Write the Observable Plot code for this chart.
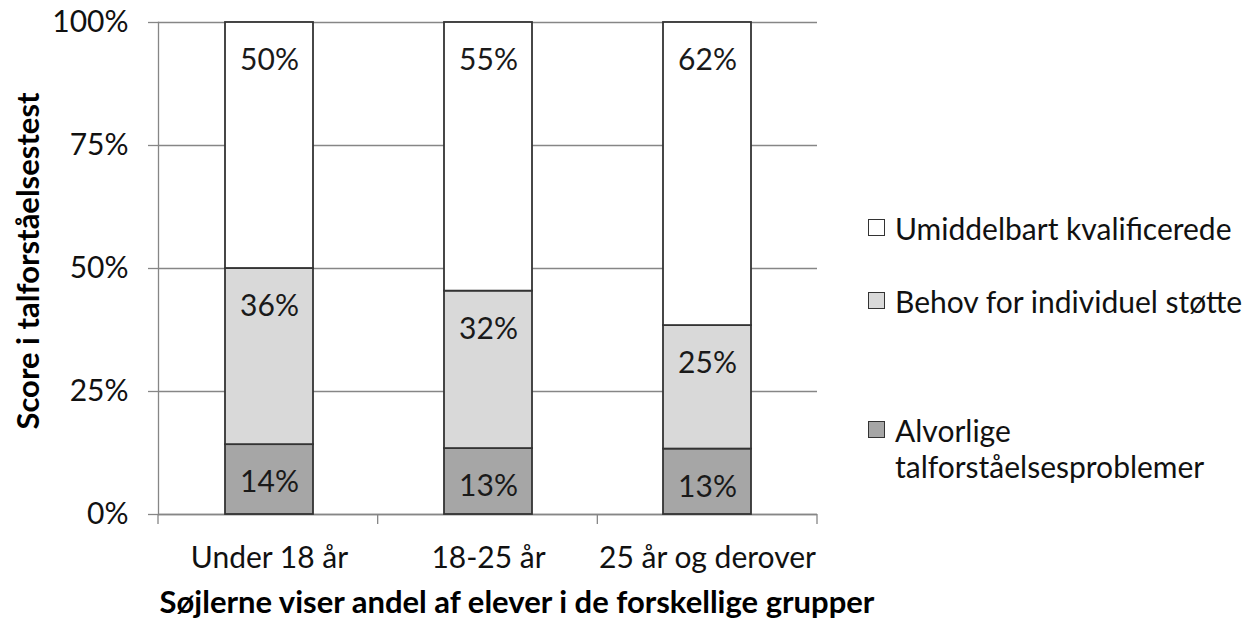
<!DOCTYPE html>
<html><head><meta charset="utf-8">
<script src="https://cdn.jsdelivr.net/npm/d3@7"></script>
<script src="https://cdn.jsdelivr.net/npm/@observablehq/plot@0.6"></script>
<style>
body{margin:0;background:#fff;font-family:Lato,sans-serif;}
#wrap{position:relative;width:1250px;height:625px;overflow:hidden;background:#fff}
#wrap svg{position:absolute;left:0;top:0}
.ttl{position:absolute;font-weight:bold;font-size:31px;color:#000;white-space:nowrap;}
.leg{position:absolute;font-size:30px;line-height:36px;color:#111;white-space:nowrap;}
.sq{position:absolute;width:17px;height:17px;border:1.5px solid #333;box-sizing:border-box;}
</style></head><body><div id="wrap"></div>
<script>
const groups = ["Under 18 år", "18-25 år", "25 år og derover"];
const series = ["Alvorlige talforståelsesproblemer", "Behov for individuel støtte", "Umiddelbart kvalificerede"];
const alvorlige = [14.2, 13.4, 13.3];
const behov = [35.8, 32.0, 25.1];
const umiddelbart = [50.0, 54.6, 61.6];
const yTicks = [0, 25, 50, 75, 100];
const colors = ["#a6a6a6", "#d9d9d9", "#ffffff"];
const yTitle = "Score i talforståelsestest";
const xTitle = "Søjlerne viser andel af elever i de forskellige grupper";
const legendLines = [["Umiddelbart kvalificerede"], ["Behov for individuel støtte"], ["Alvorlige", "talforståelsesproblemer"]];

const values = [alvorlige, behov, umiddelbart];
const rows = [];
groups.forEach((g, i) => series.forEach((s, j) => rows.push({group: g, series: s, value: values[j][i]})));

const W = 1250, H = 625, mL = 158, mR = 433, mT = 22, mB = 111;
const grid = "#868686";
const chart = Plot.plot({
  width: W, height: H, marginLeft: mL, marginRight: mR, marginTop: mT, marginBottom: mB,
  style: {fontFamily: "Lato, sans-serif", fontSize: "30px", color: "#111", background: "transparent"},
  x: {domain: groups, paddingInner: 0.6, paddingOuter: 0.3, label: null},
  y: {domain: [0, 100], label: null},
  color: {domain: series, range: colors},
  marks: [
    Plot.gridY(yTicks, {stroke: grid, strokeOpacity: 1, strokeWidth: 1.3}),
    Plot.frame({anchor: "left", stroke: grid, strokeWidth: 1.3}),
    Plot.ruleY([0], {stroke: grid, strokeWidth: 1.3}),
    Plot.axisY(yTicks, {tickSize: 10, tickPadding: 20, tickFormat: d => d + "%", stroke: grid, strokeWidth: 1.3, label: null}),
    Plot.axisX({tickSize: 0, tickPadding: 32, label: null}),
    Plot.barY(rows, {x: "group", y: "value", fill: "series", order: series, stroke: "#333", strokeWidth: 1.8}),
    Plot.text(rows, Plot.stackY2({x: "group", y: "value", z: "series", order: series,
      text: d => Math.round(d.value) + "%", dy: 38, fill: "#1a1a1a"}))
  ]
});
const wrap = document.getElementById("wrap");
wrap.appendChild(chart);

// category boundary ticks on the x axis
const xs = chart.scale("x");
const [r0, r1] = xs.range;
const ys = chart.scale("y");
const y0 = ys.apply(0);
const step = (r1 - r0) / groups.length;
const svg = d3.select(chart);
for (let i = 0; i <= groups.length; i++) {
  svg.append("line").attr("x1", r0 + i * step).attr("x2", r0 + i * step)
    .attr("y1", y0).attr("y2", y0 + 10).attr("stroke", grid).attr("stroke-width", 1.3);
}

// titles
const yt = document.createElement("div");
yt.className = "ttl"; yt.textContent = yTitle;
yt.style.left = "27px"; yt.style.top = "261px";
yt.style.transform = "translate(-50%,-50%) rotate(-90deg)";
wrap.appendChild(yt);
const xt = document.createElement("div");
xt.className = "ttl"; xt.textContent = xTitle;
xt.style.left = "517px"; xt.style.top = "601px";
xt.style.transform = "translate(-50%,-50%)";
wrap.appendChild(xt);

// legend (top to bottom: reverse of stack order)
const legTops = [228, 301, 430];
legendLines.forEach((lines, k) => {
  const ci = series.length - 1 - k;
  const sq = document.createElement("div");
  sq.className = "sq"; sq.style.background = colors[ci];
  sq.style.left = "868px"; sq.style.top = (legTops[k] - 9) + "px";
  wrap.appendChild(sq);
  const t = document.createElement("div");
  t.className = "leg"; t.innerHTML = lines.join("<br>");
  t.style.left = "895px"; t.style.top = (legTops[k] - 18) + "px";
  wrap.appendChild(t);
});
</script></body></html>
